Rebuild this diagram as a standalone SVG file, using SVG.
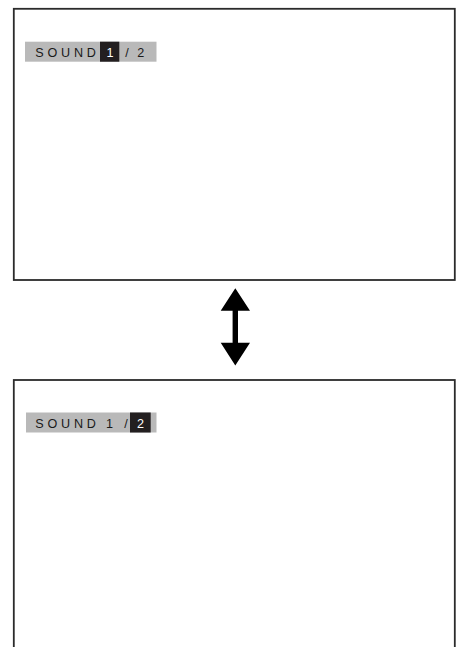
<svg xmlns="http://www.w3.org/2000/svg" width="456" height="647" viewBox="0 0 456 647">
<style>
.screen{fill:#fff;stroke:#2b2b2b;stroke-width:1.8}
.bar{fill:#b9b9b9}
.hl{fill:#231f20}
.t{font-family:"Liberation Sans",Arial,sans-serif;font-size:12.6px;fill:#1a1a1a}
.tw{font-family:"Liberation Sans",Arial,sans-serif;font-size:12.6px;fill:#fff}
</style>
<g id="screen1">
<rect class="screen" x="13.8" y="8.8" width="441" height="271.2"/>
<rect class="bar" x="25" y="41.7" width="131.5" height="20"/>
<rect class="hl" x="100" y="41.7" width="19.3" height="20"/>
<text class="t" x="35.2" y="57" letter-spacing="3.8">SOUND</text>
<text class="tw" x="110" y="57" text-anchor="middle">1</text>
<text class="t" x="127" y="57" text-anchor="middle">/</text>
<text class="t" x="140.7" y="57" text-anchor="middle">2</text>
</g>
<g id="screen2">
<rect class="screen" x="13.8" y="380" width="441" height="280"/>
<rect class="bar" x="26" y="412.5" width="130.5" height="20"/>
<rect class="hl" x="130" y="412.5" width="20.7" height="20"/>
<text class="t" x="35.2" y="427.5" letter-spacing="3.8">SOUND</text>
<text class="t" x="109.5" y="427.5" text-anchor="middle">1</text>
<text class="t" x="126" y="427.5" text-anchor="middle">/</text>
<text class="tw" x="140.5" y="427.5" text-anchor="middle">2</text>
</g>
<g id="connectors">
<path d="M235.3 288.3 L250 310.7 L238 310.7 L238 342.7 L250 342.7 L235.3 365.5 L220.7 342.7 L232.6 342.7 L232.6 310.7 L220.7 310.7 Z" fill="#000"/>
</g>
</svg>
